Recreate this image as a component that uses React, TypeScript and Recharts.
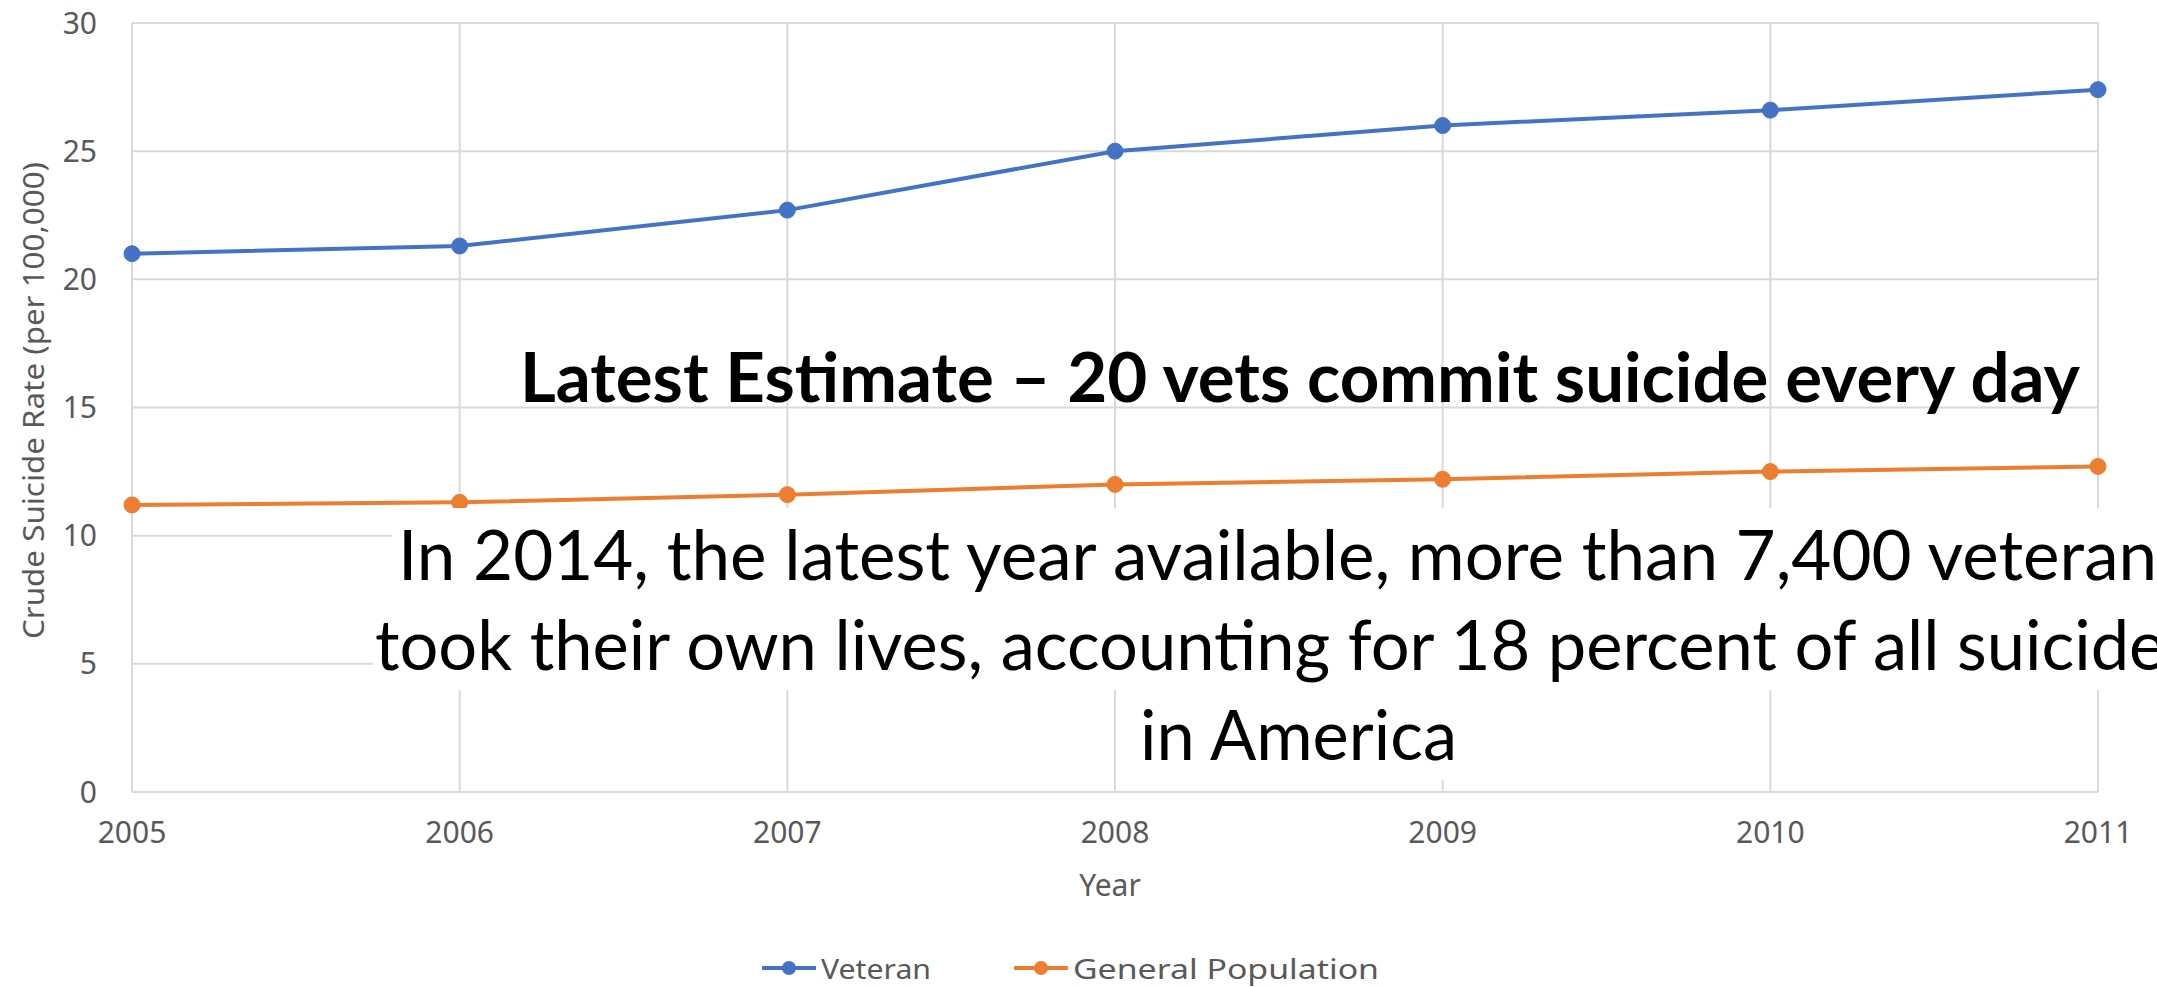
import { LineChart, Line, XAxis, YAxis, CartesianGrid } from "recharts";

const YEARS = ["2005", "2006", "2007", "2008", "2009", "2010", "2011"];
const VETERAN = [21.0, 21.3, 22.7, 25.0, 26.0, 26.6, 27.4];
const GENERAL = [11.2, 11.3, 11.6, 12.0, 12.2, 12.5, 12.7];
const Y_TICKS = [0, 5, 10, 15, 20, 25, 30];

const SERIES = [
  { key: "veteran", name: "Veteran", color: "#4472C4" },
  { key: "general", name: "General Population", color: "#ED7D31" },
];

const HEADLINE = "Latest Estimate – 20 vets commit suicide every day";
const NOTE_LINES = [
  "In 2014, the latest year available, more than 7,400 veterans",
  "took their own lives, accounting for 18 percent of all suicides",
  "in America",
];

const data = YEARS.map((year, i) => ({
  year,
  veteran: VETERAN[i],
  general: GENERAL[i],
}));

const W = 2157;
const H = 987;
const GRID = "#d9d9d9";
const MUTED = "#595959";
const FONT = "'Noto Sans', sans-serif";
const NOTE_FONT = "Lato, 'Noto Sans', sans-serif";

function YTitle({ viewBox }: any) {
  const cx = viewBox.x + 32;
  const cy = viewBox.y + viewBox.height / 2 - 7;
  return (
    <text
      x={cx}
      y={cy}
      transform={`rotate(-90 ${cx} ${cy})`}
      textAnchor="middle"
      dominantBaseline="central"
      fill={MUTED}
      fontSize={29}
      fontFamily={FONT}
      textLength={477}
      lengthAdjust="spacingAndGlyphs"
    >
      Crude Suicide Rate (per 100,000)
    </text>
  );
}

function XTitle({ viewBox }: any) {
  return (
    <text
      x={viewBox.x + viewBox.width / 2 - 5}
      y={viewBox.y + 92}
      textAnchor="middle"
      dominantBaseline="central"
      fill={MUTED}
      fontSize={30}
      fontFamily={FONT}
    >
      Year
    </text>
  );
}

function Notes() {
  // text box pasted over the chart; each paragraph line has a white highlight
  return (
    <svg
      width={W}
      height={H}
      style={{ position: "absolute", left: 0, top: 0, pointerEvents: "none" }}
    >
      <text
        x={520}
        y={402}
        fontSize={68}
        fontWeight={700}
        fontFamily={NOTE_FONT}
        fill="#000"
        textLength={1560}
        lengthAdjust="spacingAndGlyphs"
      >
        {HEADLINE}
      </text>
      <rect x={392} y={508} width={W - 392} height={92} fill="#fff" />
      <rect x={373} y={600} width={W - 373} height={90} fill="#fff" />
      <rect x={1135} y={690} width={327} height={90} fill="#fff" />
      <text x={398} y={580} fontSize={70} fontFamily={NOTE_FONT} fill="#000" textLength={1789} lengthAdjust="spacingAndGlyphs">
        {NOTE_LINES[0]}
      </text>
      <text x={375} y={670} fontSize={70} fontFamily={NOTE_FONT} fill="#000" textLength={1820} lengthAdjust="spacingAndGlyphs">
        {NOTE_LINES[1]}
      </text>
      <text x={1140} y={760} fontSize={70} fontFamily={NOTE_FONT} fill="#000" textLength={317} lengthAdjust="spacingAndGlyphs">
        {NOTE_LINES[2]}
      </text>
    </svg>
  );
}

function ChartLegend() {
  const starts = [762, 1014];
  const textLengths = [110, 306];
  const cy = 968;
  return (
    <svg
      width={W}
      height={H}
      style={{ position: "absolute", left: 0, top: 0, pointerEvents: "none" }}
    >
      {SERIES.map((s, i) => (
        <g key={s.key}>
          <line x1={starts[i]} y1={cy} x2={starts[i] + 54} y2={cy} stroke={s.color} strokeWidth={4} />
          <circle cx={starts[i] + 27} cy={cy} r={7} fill={s.color} />
          <text
            x={starts[i] + 59}
            y={cy}
            dominantBaseline="central"
            fontSize={28}
            fontFamily={FONT}
            fill={MUTED}
            textLength={textLengths[i]}
            lengthAdjust="spacingAndGlyphs"
          >
            {s.name}
          </text>
        </g>
      ))}
    </svg>
  );
}

export default function App() {
  return (
    <div
      style={{
        position: "absolute",
        left: 0,
        top: 0,
        width: W,
        height: H,
        overflow: "hidden",
        background: "#fff",
      }}
    >
      <LineChart
        width={W}
        height={H}
        data={data}
        margin={{ top: 23, right: 59, bottom: 95, left: 0 }}
        style={{ fontFamily: FONT }}
      >
        <CartesianGrid stroke={GRID} strokeWidth={2} />
        <XAxis
          dataKey="year"
          padding={{ left: 0, right: 0 }}
          height={100}
          axisLine={false}
          tickLine={false}
          tickSize={0}
          tickMargin={30}
          interval={0}
          tick={{ fontSize: 30, fill: MUTED, fontFamily: FONT }}
          label={{ content: XTitle }}
        />
        <YAxis
          domain={[0, 30]}
          ticks={Y_TICKS}
          width={132}
          axisLine={false}
          tickLine={false}
          tickSize={0}
          tickMargin={35}
          tick={{ fontSize: 30, fill: MUTED, fontFamily: FONT }}
          label={{ content: YTitle }}
        />
        {SERIES.map((s) => (
          <Line
            key={s.key}
            dataKey={s.key}
            name={s.name}
            stroke={s.color}
            strokeWidth={4}
            dot={{ r: 8, fill: s.color, stroke: s.color, strokeWidth: 1 }}
            activeDot={false}
            isAnimationActive={false}
          />
        ))}
      </LineChart>
      <Notes />
      <ChartLegend />
    </div>
  );
}
